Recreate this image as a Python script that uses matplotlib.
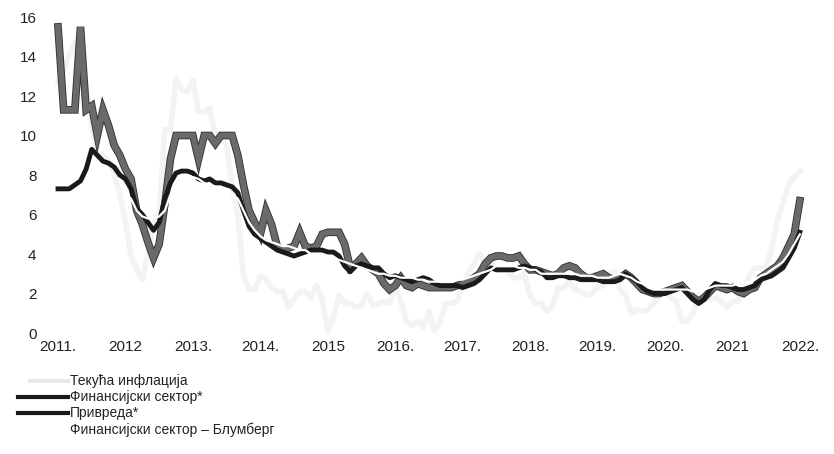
import numpy as np
import matplotlib
matplotlib.use('Agg')
import matplotlib.pyplot as plt
import matplotlib.patheffects as pe

# mjesečni podaci, jan 2011 - jan 2022
godine = ['2011.', '2012', '2013.', '2014.', '2015', '2016.', '2017.',
          '2018.', '2019.', '2020.', '2021', '2022.']

inflacija = [12.7, 13.3, 14.1, 14.7, 13.4, 12.7, 10.5, 9.1, 9.0, 8.7, 8.1, 7.0,
             5.6, 3.9, 3.2, 2.7, 3.9, 5.5, 6.1, 10.3, 10.3, 12.9, 12.3, 12.2,
             12.8, 11.2, 11.2, 11.4, 9.9, 9.8, 9.6, 7.3, 6.0, 2.9, 2.2, 2.2,
             2.9, 2.7, 2.3, 2.1, 2.1, 1.3, 1.7, 2.1, 2.1, 1.8, 2.4, 1.7,
             0.1, 0.8, 1.9, 1.5, 1.5, 1.3, 1.4, 2.0, 1.4, 1.5, 1.6, 1.5,
             2.4, 1.6, 0.6, 0.4, 0.6, 0.3, 1.1, 0.1, 0.6, 1.5, 1.5, 1.6,
             2.4, 3.1, 3.5, 4.0, 3.5, 3.6, 3.2, 3.2, 3.2, 2.8, 2.8, 3.0,
             1.9, 1.5, 1.5, 1.1, 1.4, 2.3, 2.3, 2.6, 2.2, 2.1, 1.9, 2.0,
             2.3, 2.4, 3.0, 3.1, 2.2, 1.9, 1.0, 1.2, 1.1, 1.2, 1.5, 1.9,
             2.1, 1.8, 1.6, 0.6, 0.6, 1.0, 1.9, 1.8, 1.7, 1.8, 1.6, 1.3,
             1.6, 1.6, 2.2, 2.9, 3.3, 3.3, 3.3, 4.3, 5.7, 6.6, 7.5, 7.9,
             8.2]

fin_sektor = [7.3, 7.3, 7.3, 7.5, 7.7, 8.3, 9.3, 9.0, 8.7, 8.6, 8.4, 8.0,
              7.8, 7.3, 6.3, 6.0, 5.6, 5.2, 5.6, 6.8, 7.6, 8.1, 8.2, 8.2,
              8.1, 7.8, 7.7, 7.8, 7.6, 7.6, 7.5, 7.4, 7.1, 6.2, 5.4, 5.0,
              4.8, 4.6, 4.4, 4.2, 4.1, 4.0, 3.9, 4.0, 4.1, 4.2, 4.2, 4.2,
              4.1, 4.1, 3.9, 3.4, 3.1, 3.4, 3.5, 3.4, 3.3, 3.3, 3.0, 2.8,
              2.9, 2.8, 2.7, 2.6, 2.7, 2.8, 2.7, 2.5, 2.4, 2.4, 2.4, 2.4,
              2.3, 2.4, 2.5, 2.7, 3.0, 3.3, 3.2, 3.2, 3.2, 3.2, 3.3, 3.4,
              3.3, 3.2, 3.1, 2.8, 2.8, 2.9, 2.9, 2.8, 2.8, 2.7, 2.7, 2.7,
              2.7, 2.6, 2.6, 2.6, 2.7, 3.0, 2.8, 2.6, 2.3, 2.1, 2.0, 2.0,
              2.0, 2.1, 2.2, 2.3, 2.0, 1.7, 1.5, 1.7, 2.2, 2.5, 2.4, 2.4,
              2.3, 2.2, 2.2, 2.3, 2.4, 2.7, 2.8, 2.9, 3.1, 3.3, 3.8, 4.3,
              5.1]

privreda = [15.5, 11.3, 11.3, 11.3, 15.5, 11.3, 11.5, 10.0, 11.3, 10.5, 9.5, 9.0,
            8.3, 7.8, 6.2, 5.5, 4.6, 3.8, 4.5, 6.5, 8.8, 10.0, 10.0, 10.0,
            10.0, 8.8, 10.0, 10.0, 9.6, 10.0, 10.0, 10.0, 9.0, 7.5, 6.2, 5.6,
            5.0, 6.2, 5.5, 4.4, 4.2, 4.3, 4.4, 5.1, 4.4, 4.3, 4.4, 5.0,
            5.1, 5.1, 5.1, 4.5, 3.3, 3.5, 3.8, 3.4, 3.2, 3.0, 2.5, 2.2,
            2.4, 2.8, 2.4, 2.3, 2.5, 2.4, 2.3, 2.3, 2.3, 2.3, 2.3, 2.4,
            2.5, 2.6, 2.8, 3.0, 3.5, 3.8, 3.9, 3.9, 3.8, 3.8, 3.9, 3.5,
            3.2, 3.2, 3.1, 3.0, 2.9, 3.0, 3.3, 3.4, 3.3, 3.0, 2.8, 2.8,
            2.9, 3.0, 2.8, 2.7, 2.8, 3.0, 2.8, 2.5, 2.2, 2.1, 2.0, 2.0,
            2.1, 2.2, 2.3, 2.4, 2.1, 1.8, 1.6, 1.8, 2.1, 2.4, 2.3, 2.2,
            2.3, 2.1, 2.0, 2.2, 2.3, 2.8, 3.0, 3.2, 3.4, 3.8, 4.4, 5.0,
            6.7]

# Blumberg počinje od jan 2012
blumberg = [7.0, 6.8, 6.2, 5.9, 5.8, 5.8, 5.9, 6.2, 7.0, 7.4, 7.6, 7.8,
            7.9, 7.8, 7.6, 7.5, 7.4, 7.3, 7.2, 7.0, 6.8, 6.2, 5.6, 5.2,
            4.9, 4.7, 4.6, 4.5, 4.4, 4.4, 4.3, 4.2, 4.2, 4.0, 4.0, 4.0,
            3.9, 3.8, 3.7, 3.6, 3.5, 3.4, 3.3, 3.2, 3.1, 3.0, 3.0, 2.9,
            2.9, 2.8, 2.8, 2.8, 2.7, 2.7, 2.6, 2.6, 2.6, 2.6, 2.6, 2.7,
            2.7, 2.8, 2.9, 3.0, 3.1, 3.2, 3.4, 3.4, 3.4, 3.4, 3.3, 3.3,
            3.2, 3.2, 3.0, 3.0, 3.0, 3.0, 3.0, 3.0, 3.0, 2.9, 2.9, 2.9,
            2.8, 2.8, 2.8, 2.9, 3.0, 2.9, 2.8, 2.6, 2.5, 2.3, 2.2, 2.2,
            2.2, 2.2, 2.2, 2.2, 2.2, 2.1, 2.1, 2.2, 2.3, 2.4, 2.4, 2.4,
            2.4, 2.5, 2.5, 2.6, 2.7, 2.9, 3.0, 3.2, 3.4, 3.6, 4.0, 4.5,
            5.0]

x = 2011 + np.arange(len(privreda)) / 12
x_bl = 2012 + np.arange(len(blumberg)) / 12

fig = plt.figure(figsize=(8.34, 4.54), dpi=100)
ax = fig.add_axes([0.0453, 0.2665, 0.938, 0.696])

ax.plot(x, inflacija, color='#f3f3f3', lw=4)
ax.plot(x, privreda, color='#6a6a6a', lw=4.2, solid_joinstyle='miter',
        path_effects=[pe.Stroke(linewidth=5.5, foreground='#333333'), pe.Normal()])
ax.plot(x, fin_sektor, color='#1a1a1a', lw=3.5)
ax.plot(x_bl, blumberg, color='white', lw=1.6)

ax.set_xlim(2010.7, 2022.3)
ax.set_ylim(0, 16)
ax.set_yticks(range(0, 17, 2))
ax.set_xticks(2011 + np.arange(len(godine)))
ax.set_xticklabels(godine)
for s in ax.spines.values():
    s.set_visible(False)
ax.tick_params(length=0, labelsize=11, colors='#222222')
ax.tick_params(axis='y', pad=1)
ax.tick_params(axis='x', pad=5)
for t in ax.get_xticklabels() + ax.get_yticklabels():
    t.set_family(['Liberation Sans', 'DejaVu Sans'])

# legenda
leg_y = [381, 397, 413, 430]
leg_txt = ['Текућа инфлација', 'Финансијски сектор*', 'Привреда*',
           'Финансијски сектор – Блумберг']
leg_col = ['#e8e8e8', '#1a1a1a', '#1a1a1a', 'white']
leg_x0 = [30, 18, 18, 18]
for yy, tx, c, x0 in zip(leg_y, leg_txt, leg_col, leg_x0):
    fy = 1 - yy / 454
    fig.add_artist(plt.Line2D([x0 / 834, 68 / 834], [fy, fy], color=c, lw=3,
                              transform=fig.transFigure))
    fig.text(70 / 834, fy, tx, fontsize=10, va='center', color='#222222',
             family=['Liberation Sans', 'DejaVu Sans'])

plt.savefig('out.png')
plt.close()
